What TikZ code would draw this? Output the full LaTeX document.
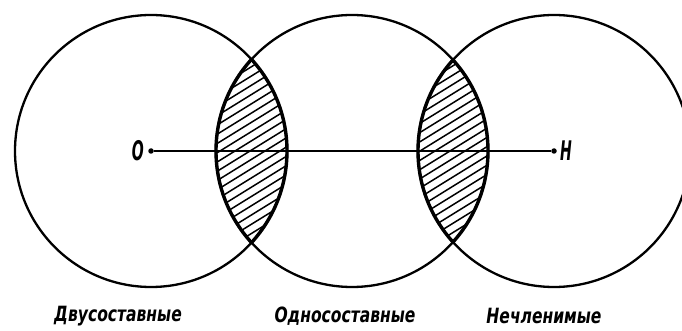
\documentclass[tikz,border=0pt]{standalone}
\usepackage{fontspec}
\newfontfamily\labfont{DejaVu Sans}[FakeStretch=0.74]
\newfontfamily\ptfont{DejaVu Sans}[FakeStretch=0.52]
\begin{document}
\begin{tikzpicture}[x=1pt,y=-1pt,
  circ/.style={line width=2.3pt},
  lensedge/.style={line width=3.4pt},
  hatch/.style={line width=1.5pt},
  lab/.style={font=\labfont\bfseries\itshape\fontsize{21}{21}\selectfont, inner sep=0pt},
  ptlab/.style={font=\ptfont\bfseries\itshape\fontsize{27}{27}\selectfont, inner sep=0pt},
  dot/.style={circle, fill=black, inner sep=0pt, minimum size=5.5pt}]
\useasboundingbox (0,0) rectangle (682,331);
\begin{scope}
\clip (0,0) rectangle (682,331);
% hatching of left lens
\begin{scope}
  \clip (151,151) circle (136);
  \clip (352,151) circle (136);
  \foreach \c in {100,115,...,430} {
    \draw[hatch] (\c-170,151+105) -- (\c+170,151-105);
  }
\end{scope}
% hatching of right lens
\begin{scope}
  \clip (352,151) circle (136);
  \clip (554,151) circle (136);
  \foreach \c in {300,315,...,630} {
    \draw[hatch] (\c-170,151+105) -- (\c+170,151-105);
  }
\end{scope}
% circles
\draw[circ] (151,151) circle (136);
\draw[circ] (352,151) circle (136);
\draw[circ] (554,151) circle (136);
% thick lens edges
\begin{scope}
  \clip (151,151) circle (136);
  \draw[lensedge] (352,151) circle (136);
\end{scope}
\begin{scope}
  \clip (352,151) circle (136);
  \draw[lensedge] (151,151) circle (136);
  \draw[lensedge] (554,151) circle (136);
\end{scope}
\begin{scope}
  \clip (554,151) circle (136);
  \draw[lensedge] (352,151) circle (136);
\end{scope}
\end{scope}
% axis
\node[dot] (O) at (151,151) {};
\node[dot] (H) at (554,151) {};
\draw[line width=1.4pt] (O) -- (H);
\node[ptlab, anchor=east] (Olab) at (144,151) {О};
\node[ptlab, anchor=west] (Hlab) at (560,151) {Н};
% labels
\node[lab] (l1) at (118,316) {Двусоставные};
\node[lab] (l2) at (345,316) {Односоставные};
\node[lab] (l3) at (544,316) {Нечленимые};
\end{tikzpicture}
\end{document}
